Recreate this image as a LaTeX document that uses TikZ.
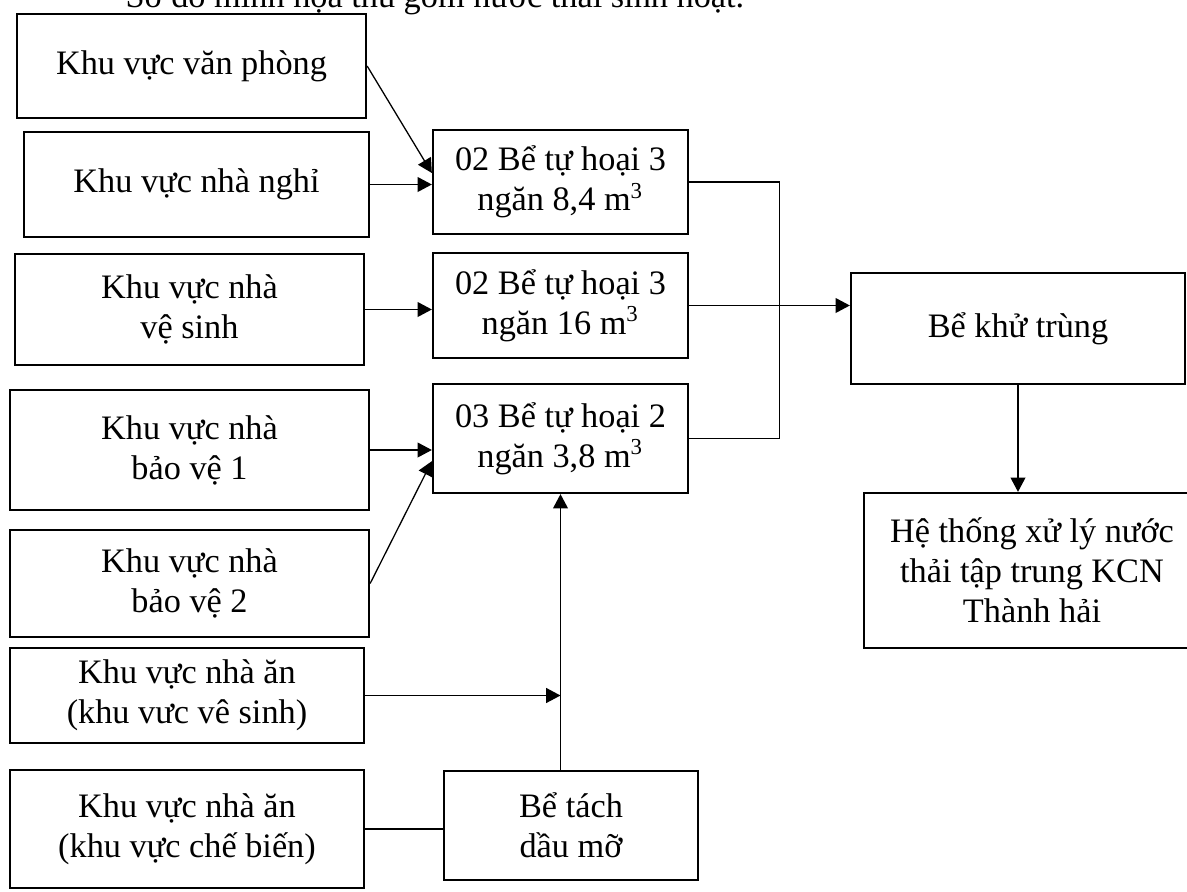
\documentclass[tikz,border=0pt]{standalone}
\usepackage{fontspec}
\setmainfont{Liberation Serif}
\usetikzlibrary{arrows.meta,positioning,calc}

\begin{document}
\begin{tikzpicture}[x=0.35pt, y=-0.35pt,
  box/.style 2 args={draw, line width=0.8pt, minimum width=#1*0.35pt, minimum height=#2*0.35pt,
    inner sep=0pt, align=center, font=\fontsize{12}{14}\selectfont},
  flow/.style={line width=0.45pt, -{Triangle[length=5pt, width=5.2pt]}},
  link/.style={line width=0.45pt}]
\useasboundingbox (0,0) rectangle (1187,892);

% Title line (cut by the top edge)
\node[anchor=base west, inner sep=0pt, font=\fontsize{12}{14}\selectfont] (title) at (125,7)
  {Sơ đồ minh họa thu gom nước thải sinh hoạt.};

% Sources
\node[box={349}{104}] (vanphong) at (191.5,66) {Khu vực văn phòng};
\node[box={345}{105}] (nghi) at (196.5,184.5) {Khu vực nhà nghỉ};
\node[box={349}{111}] (vesinh) at (189.5,309.5) {Khu vực nhà\\vệ sinh};
\node[box={359}{120}] (baove1) at (189.5,450) {Khu vực nhà\\bảo vệ 1};
\node[box={359}{107}] (baove2) at (189.5,583.5) {Khu vực nhà\\bảo vệ 2};
\node[box={354}{95}] (nhaanvs) at (187,695.5) {Khu vực nhà ăn\\(khu vưc vê sinh)};
\node[box={354}{118}] (nhaancb) at (187,829) {Khu vực nhà ăn\\(khu vực chế biến)};

% Septic tanks
\node[box={255}{104}] (m1) at (560.5,182) {02 Bể tự hoại 3\\ngăn 8,4 m\textsuperscript{3}};
\node[box={255}{105}] (m2) at (560.5,305.5) {02 Bể tự hoại 3\\ngăn 16 m\textsuperscript{3}};
\node[box={255}{109}] (m3) at (560.5,438.5) {03 Bể tự hoại 2\\ngăn 3,8 m\textsuperscript{3}};
\node[box={254}{109}] (tach) at (571,825.5) {Bể tách\\dầu mỡ};

% Treatment
\node[box={334}{111}] (khutrung) at (1018,328.5) {Bể khử trùng};
\node[box={336}{155}] (ht) at (1032,570.5) {Hệ thống xử lý nước\\thải tập trung KCN\\Thành hải};

% Connectors
\draw[flow] (vanphong.east) -- (m1.176);
\draw[flow] (nghi.east) -- (nghi.east -| m1.west);
\draw[flow] (vesinh.east) -- (vesinh.east -| m2.west);
\draw[flow] (baove1.east) -- (baove1.east -| m3.west);
\draw[flow] (baove2.east) -- (m3.190);
\draw[flow] (nhaanvs.east) -- (nhaanvs.east -| m3.south);
\draw[link] (nhaancb.east) -- (nhaancb.east -| tach.west);
\draw[flow] (tach.north -| m3.south) -- (m3.south);
\draw[link] (m1.east) -- ++(90,0) |- (m3.east);
\draw[flow] (m2.east) -- (m2.east -| khutrung.west);
\draw[flow] (khutrung.south) -- (khutrung.south |- ht.north);
\end{tikzpicture}
\end{document}
